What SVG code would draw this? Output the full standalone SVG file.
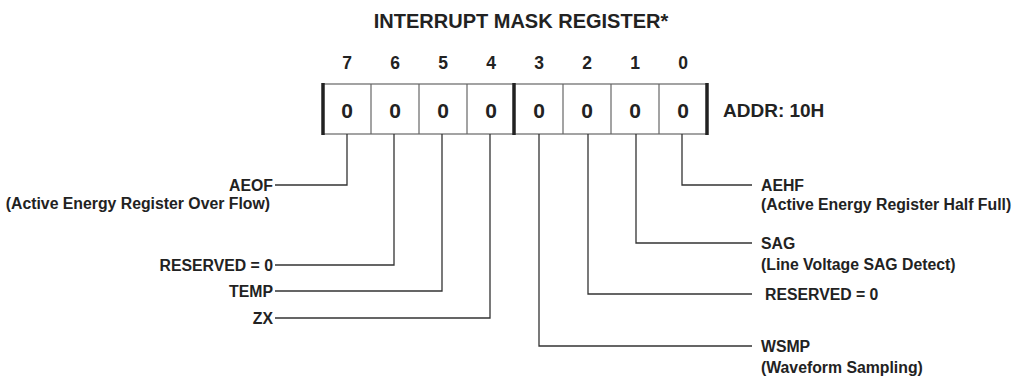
<svg xmlns="http://www.w3.org/2000/svg" width="1013" height="377" viewBox="0 0 1013 377">
<style>
text{font-family:"Liberation Sans",Arial,sans-serif;font-weight:bold;fill:#222}
.title{font-size:20px}
.bit{font-size:17.5px;text-anchor:middle}
.val{font-size:21px;text-anchor:middle}
.addr{font-size:19px}
.lbl{font-size:15.8px}
.end{text-anchor:end}
.thin{stroke:#666;stroke-width:1.2;fill:none}
.thick{stroke:#222;stroke-width:3.5;fill:none}
.conn{stroke:#333;stroke-width:1.3;fill:none}
</style>
<rect width="1013" height="377" fill="#fff"/>
<text class="title" x="521" y="28" text-anchor="middle">INTERRUPT MASK REGISTER*</text>
<g id="bits">
<text class="bit" x="347" y="69">7</text>
<text class="bit" x="395" y="69">6</text>
<text class="bit" x="443" y="69">5</text>
<text class="bit" x="491" y="69">4</text>
<text class="bit" x="539" y="69">3</text>
<text class="bit" x="587" y="69">2</text>
<text class="bit" x="635" y="69">1</text>
<text class="bit" x="683" y="69">0</text>
</g>
<g id="register">
<rect class="thin" x="323" y="84" width="384" height="50"/>
<line class="thin" x1="371" y1="84" x2="371" y2="134"/>
<line class="thin" x1="419" y1="84" x2="419" y2="134"/>
<line class="thin" x1="467" y1="84" x2="467" y2="134"/>
<line class="thin" x1="563" y1="84" x2="563" y2="134"/>
<line class="thin" x1="611" y1="84" x2="611" y2="134"/>
<line class="thin" x1="659" y1="84" x2="659" y2="134"/>
<line class="thick" x1="323" y1="83" x2="323" y2="135"/>
<line class="thick" x1="514" y1="83" x2="514" y2="135"/>
<line class="thick" x1="707" y1="83" x2="707" y2="135"/>
<text class="val" x="347" y="118">0</text>
<text class="val" x="395" y="118">0</text>
<text class="val" x="443" y="118">0</text>
<text class="val" x="491" y="118">0</text>
<text class="val" x="539" y="118">0</text>
<text class="val" x="587" y="118">0</text>
<text class="val" x="635" y="118">0</text>
<text class="val" x="683" y="118">0</text>
</g>
<text class="addr" x="723" y="117">ADDR: 10H</text>
<g id="connectors">
<polyline class="conn" points="347,134 347,185 275,185"/>
<polyline class="conn" points="394,134 394,265 275,265"/>
<polyline class="conn" points="442,134 442,291 275,291"/>
<polyline class="conn" points="490,134 490,318 275,318"/>
<polyline class="conn" points="539,134 539,346 752,346"/>
<polyline class="conn" points="588,134 588,294 752,294"/>
<polyline class="conn" points="636,134 636,243 752,243"/>
<polyline class="conn" points="682,134 682,185 752,185"/>
</g>
<g id="aeof"><text class="lbl end" x="273" y="191">AEOF</text><text class="lbl end" x="270" y="208.5">(Active Energy Register Over Flow)</text></g>
<g id="res6"><text class="lbl end" x="273" y="270.5">RESERVED = 0</text></g>
<g id="temp"><text class="lbl end" x="273" y="296.5">TEMP</text></g>
<g id="zx"><text class="lbl end" x="273" y="323.5">ZX</text></g>
<g id="aehf"><text class="lbl" x="761" y="191">AEHF</text><text class="lbl" x="761" y="210">(Active Energy Register Half Full)</text></g>
<g id="sag"><text class="lbl" x="761" y="249">SAG</text><text class="lbl" x="761" y="270">(Line Voltage SAG Detect)</text></g>
<g id="res2"><text class="lbl" x="765" y="300">RESERVED = 0</text></g>
<g id="wsmp"><text class="lbl" x="761" y="352">WSMP</text><text class="lbl" x="761" y="373">(Waveform Sampling)</text></g>
</svg>
